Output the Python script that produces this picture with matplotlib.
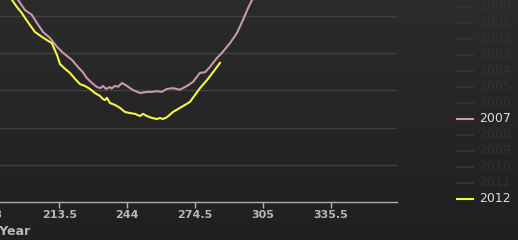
import matplotlib
matplotlib.use("Agg")
import matplotlib.pyplot as plt
from matplotlib.lines import Line2D
import numpy as np

# Arctic sea ice area (million km^2) by day of year
days_2007 = [184.6, 186.9, 195.0, 198.1, 201.2, 203.5, 206.2, 209.3, 212.5, 215.2,
             219.2, 221.9, 224.1, 225.9, 228.2, 230.4, 232.0, 233.1, 234.5, 236.3,
             237.0, 238.5, 240.0, 241.7, 243.9, 246.6, 249.8, 252.9, 255.0, 257.4,
             259.5, 261.9, 264.6, 267.7, 270.9, 273.6, 276.7, 279.0, 281.2, 284.3,
             286.6, 290.2, 293.3, 296.0, 298.3, 300.1, 304.6, 308.1]
area_2007 = [6.10, 5.97, 5.43, 5.16, 5.03, 4.81, 4.57, 4.41, 4.17, 4.01,
             3.82, 3.63, 3.49, 3.33, 3.20, 3.09, 3.06, 3.12, 3.04, 3.09,
             3.05, 3.12, 3.10, 3.20, 3.12, 3.01, 2.93, 2.96, 2.96, 2.98,
             2.96, 3.04, 3.06, 3.02, 3.12, 3.23, 3.47, 3.49, 3.63, 3.87,
             4.01, 4.27, 4.54, 4.89, 5.21, 5.43, 5.97, 6.50]

days_2012 = [184.6, 186.9, 192.3, 194.5, 196.7, 198.1, 200.3, 202.6, 205.7, 208.0,
             210.2, 211.1, 212.5, 213.8, 216.1, 218.3, 220.6, 222.8, 225.0, 227.3,
             229.5, 231.8, 233.1, 234.0, 234.9, 236.3, 238.5, 240.8, 243.0, 245.3,
             247.5, 249.8, 251.1, 252.9, 255.1, 257.4, 258.7, 260.1, 261.9, 264.6,
             267.7, 270.0, 272.2, 274.5, 276.7, 279.9, 282.6, 285.7]
area_2012 = [6.10, 5.89, 5.43, 5.24, 5.08, 4.95, 4.76, 4.57, 4.44, 4.35,
             4.27, 4.14, 3.95, 3.71, 3.58, 3.47, 3.31, 3.17, 3.12, 3.04,
             2.93, 2.85, 2.77, 2.74, 2.80, 2.66, 2.61, 2.53, 2.42, 2.39,
             2.37, 2.31, 2.37, 2.31, 2.26, 2.23, 2.26, 2.23, 2.28, 2.42,
             2.53, 2.61, 2.69, 2.88, 3.06, 3.28, 3.49, 3.74]

x_ticks = [0, 30.5, 61, 91.5, 122, 152.5, 183, 213.5, 244, 274.5, 305, 335.5]
x_tick_labels = ["0", "30.5", "61", "91.5", "122", "152.5", "183",
                 "213.5", "244", "274.5", "305", "335.5"]
legend_years = ["2000", "2001", "2002", "2003", "2004", "2005", "2006",
                "2007", "2008", "2009", "2010", "2011", "2012"]
shown = {"2007": "#c89aa8", "2012": "#f7f545"}

W, H = 518, 240
fig = plt.figure(figsize=(W / 100, H / 100), dpi=100)

# dark background gradient
bg = fig.add_axes([0, 0, 1, 1], zorder=-10)
grad = np.linspace(0, 1, 100).reshape(-1, 1)
bg.imshow(grad, aspect="auto", cmap=matplotlib.colors.LinearSegmentedColormap.from_list(
    "bg", ["#2b2b2b", "#202020"]), extent=[0, 1, 0, 1])
bg.axis("off")

# plot area extends beyond the cropped view
left_px, right_px = -416.0, 396.5
bottom_px, top_px = 202.0, 202.0 - 8 * 37.2
ax = fig.add_axes([left_px / W, 1 - bottom_px / H,
                   (right_px - left_px) / W, (bottom_px - top_px) / H])
ax.set_facecolor("none")
ax.set_xlim(0, 365)
ax.set_ylim(0, 8)

ax.plot(days_2007, area_2007, color=shown["2007"], lw=1.5, solid_joinstyle="round")
ax.plot(days_2012, area_2012, color=shown["2012"], lw=1.5, solid_joinstyle="round")

ax.set_yticks(range(1, 9))
ax.grid(axis="y", color="#404040", lw=1.0)
ax.tick_params(axis="y", left=False, labelleft=False)
ax.set_xticks(x_ticks)
ax.set_xticklabels(x_tick_labels)
ax.tick_params(axis="x", colors="#b0b0b0", length=4, width=1, pad=2,
               labelsize=8, labelcolor="#b8b8b8")
for lab in ax.get_xticklabels():
    lab.set_fontweight("bold")
for side in ["top", "left", "right"]:
    ax.spines[side].set_visible(False)
ax.spines["bottom"].set_color("#b0b0b0")
ax.spines["bottom"].set_linewidth(1)
ax.set_xlabel("Day of Year", color="#b8b8b8", fontsize=9, fontweight="bold", labelpad=3)

# legend (hidden series shown faded)
for i, yr in enumerate(legend_years):
    ypx = 7 + 16 * i
    yf = 1 - ypx / H
    col = shown.get(yr, "#323232")
    tcol = "#dcdcdc" if yr in shown else "#323232"
    fig.add_artist(Line2D([457 / W, 473 / W], [yf, yf], color=col, lw=1.5))
    fig.text(479 / W, yf, yr, color=tcol, fontsize=9, va="center", ha="left")

fig.savefig("out.png", dpi=100)
